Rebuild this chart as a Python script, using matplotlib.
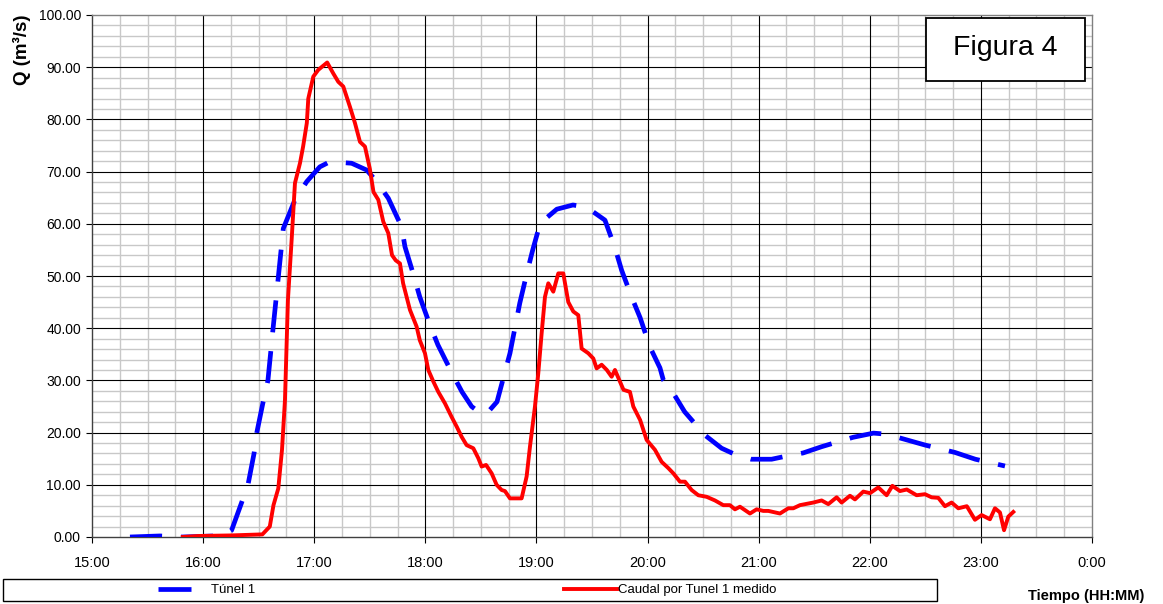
import matplotlib
matplotlib.use('Agg')
import matplotlib.pyplot as plt
from matplotlib.ticker import MultipleLocator, FormatStrFormatter
from matplotlib.lines import Line2D
from matplotlib.patches import Rectangle
import numpy as np

plt.rcParams['font.family'] = ['Liberation Sans', 'DejaVu Sans']

# ---- data: minutes after 15:00 and discharge (m3/s) ----
tunel_min = [20.5, 36.7, 48.6, 58, 66, 72, 75.4, 80.8, 84.4, 87.5, 89, 92.3, 95, 97.7,
             103.3, 109.6, 116, 123, 128.5, 140.2, 148.3, 153.7, 160, 167.2, 169,
             173.3, 177, 182.5, 186.8, 194.4, 199.8, 205, 209.5, 213, 218.7, 225.7,
             231, 235, 238, 242, 251, 259.7, 267, 277, 282.4, 286, 291.6, 296,
             301.3, 306.7, 308.5, 314, 320, 331, 340, 348, 356, 367, 375, 384,
             394, 411, 422, 429, 438, 450, 466, 477, 493]
tunel_q = [0.0, 0.2, 0.0, 0.1, 0.2, 0.5, 1.3, 6.6, 10.3, 16.0, 20.0, 25.7, 30.0, 39.7,
           59.1, 64.6, 68.1, 70.9, 71.9, 71.6, 70.3, 68.1, 64.9, 59.4, 55.6,
           50.6, 46.0, 40.6, 36.8, 31.4, 27.8, 25.0, 23.8, 23.6, 25.9, 35.2,
           44.8, 50.8, 55.0, 60.1, 62.8, 63.6, 63.2, 60.7, 55.4, 51.1, 45.8, 42.0,
           36.4, 32.4, 30.1, 27.5, 24.0, 19.5, 17.0, 15.7, 14.9, 14.9, 15.5, 16.1,
           17.3, 19.1, 19.9, 19.7, 18.8, 17.6, 16.2, 14.9, 13.6]

medido_min = [49, 58, 75, 92, 96, 98, 100.6, 102.6, 104.2, 105.3, 105.8, 107.8, 109.6,
              112.3, 114, 116, 116.8, 119.5, 122.2, 127, 130.3, 133, 135.7, 139.3,
              142, 144.7, 147.4, 150, 152, 154.6, 157.3, 160, 162, 164, 166.3, 168,
              171.7, 175.3, 177, 179.8, 181.6, 184.3, 187, 190.6, 194.2, 197, 199.6,
              202.3, 205.9, 208.6, 210.4, 212.8, 215.8, 218.5, 221.2, 223, 225.7,
              232, 234.7, 236.5, 239.2, 241, 242.8, 244.6, 246.4, 249.1, 251.8,
              254.5, 257.2, 259.9, 262.6, 264.4, 268, 270.7, 272.5, 275.2, 278,
              280.6, 282.4, 287, 290.5, 292.3, 296, 299.5, 304, 307.6, 311.2,
              313.9, 317.5, 320.2, 323.8, 327.4, 331.9, 336.4, 340.9, 344.5, 347.2,
              349.9, 355.3, 358.9, 362.5, 365.2, 371.5, 376, 378.7, 382.3, 389.5,
              394, 397.6, 402.1, 404.8, 409.3, 412, 416.5, 420.1, 424.6, 429.1,
              432.2, 436.3, 440, 445.3, 449.8, 453.4, 457, 460.6, 464.2, 467.8,
              472.4, 476.8, 480.4, 484.9, 487.6, 490.3, 492.5, 494.8, 497.5]
medido_q = [0.0, 0.2, 0.3, 0.5, 2.0, 6.1, 9.3, 16.7, 26.2, 39.0, 45.4, 56.9, 67.8,
            71.6, 74.8, 79.3, 84.0, 88.2, 89.5, 90.9, 88.8, 87.2, 86.3, 82.4,
            79.3, 75.7, 74.8, 70.6, 66.1, 64.6, 60.4, 58.2, 54.0, 53.0, 52.4, 48.6,
            43.5, 40.3, 37.7, 35.2, 32.0, 29.8, 27.8, 25.6, 23.0, 21.1, 19.2,
            17.6, 17.0, 15.1, 13.5, 13.8, 12.2, 10.0, 9.0, 8.8, 7.4,
            7.4, 11.6, 17.3, 25.0, 31.4, 39.0, 46.0, 48.6, 47.0, 50.5,
            50.5, 45.0, 43.2, 42.5, 36.1, 35.2, 34.2, 32.3, 33.0, 32.0,
            30.7, 32.0, 28.2, 27.8, 25.0, 22.4, 18.6, 16.7, 14.4, 13.2,
            12.2, 10.6, 10.6, 9.0, 8.0, 7.7, 7.0, 6.1, 6.1, 5.3,
            5.8, 4.5, 5.3, 5.0, 5.0, 4.5, 5.5, 5.5, 6.1, 6.6,
            7.0, 6.3, 7.6, 6.6, 7.9, 7.2, 8.7, 8.4, 9.5, 8.0,
            9.8, 8.8, 9.1, 8.0, 8.2, 7.6, 7.5, 5.9, 6.6, 5.5,
            5.9, 3.3, 4.2, 3.4, 5.5, 4.7, 1.3, 3.9, 4.8]

x_ticks = [15, 16, 17, 18, 19, 20, 21, 22, 23, 24]
x_tick_labels = ["15:00", "16:00", "17:00", "18:00", "19:00", "20:00",
                 "21:00", "22:00", "23:00", "0:00"]
series_labels = ["Túnel 1", "Caudal por Tunel 1 medido"]

W, H = 1163, 604
fig = plt.figure(figsize=(W / 100, H / 100), dpi=100)
ax = fig.add_axes([92 / W, 67 / H, 1000 / W, 522 / H])

t_blue = [15 + m / 60 for m in tunel_min]
t_red = [15 + m / 60 for m in medido_min]

blue_dash = (0, (6.8, 4.0))
ax.plot(t_blue, tunel_q, color='#0000FF', lw=3.4, linestyle=blue_dash,
        solid_joinstyle='round', zorder=3)
ax.plot(t_red, medido_q, color='#FF0000', lw=2.8, solid_joinstyle='round', zorder=4)

ax.set_xlim(15, 24)
ax.set_ylim(0, 100)
ax.set_xticks(x_ticks)
ax.set_xticklabels(x_tick_labels)
ax.yaxis.set_major_locator(MultipleLocator(10))
ax.yaxis.set_major_formatter(FormatStrFormatter('%.2f'))

# gridlines: minor (gray) below major (black)
for xv in np.arange(15, 24.001, 0.25):
    if abs(xv - round(xv)) > 1e-6:
        ax.axvline(xv, color='#c8c8c8', lw=1.0, zorder=0.5)
for yv in np.arange(0, 100.001, 2):
    if int(round(yv)) % 10 != 0:
        ax.axhline(yv, color='#c8c8c8', lw=1.0, zorder=0.5)
for xv in x_ticks[1:-1]:
    ax.axvline(xv, color='black', lw=0.8, zorder=1)
for yv in range(10, 100, 10):
    ax.axhline(yv, color='black', lw=0.8, zorder=1)

ax.tick_params(axis='y', which='major', length=4, width=0.8, pad=4, labelsize=10, colors='black')
ax.tick_params(axis='x', which='major', length=4, width=0.8, pad=10, labelsize=10.5, colors='black')

for side in ['top', 'right']:
    ax.spines[side].set_color('#808080')
    ax.spines[side].set_linewidth(1.0)
for side in ['left', 'bottom']:
    ax.spines[side].set_color('#404040')
    ax.spines[side].set_linewidth(1.0)

# y label
fig.text(22 / W, 1 - 50 / H, "Q (m³/s)", rotation=90, ha='center', va='center',
         fontsize=13.5, fontweight='bold')
# x label
fig.text(1028 / W, 1 - 596 / H, "Tiempo (HH:MM)", ha='left', va='center',
         fontsize=10.5, fontweight='bold')

# Figura 4 box
fig.patches.append(Rectangle((926 / W, 1 - 81 / H), 159 / W, 63 / H,
                             transform=fig.transFigure, facecolor='white',
                             edgecolor='black', lw=1.3, zorder=10))
fig.text(1005 / W, 1 - 48 / H, "Figura 4", ha='center', va='center', fontsize=20.5, zorder=11)

# legend box
fig.patches.append(Rectangle((3 / W, 1 - 601 / H), 934 / W, 22 / H,
                             transform=fig.transFigure, facecolor='white',
                             edgecolor='black', lw=1.0))
ly = 1 - 588.5 / H
fig.lines.append(Line2D([158 / W, 191 / W], [ly, ly], transform=fig.transFigure,
                        color='#0000FF', lw=3.4, solid_capstyle='butt'))
fig.text(211 / W, ly - 1.5 / H, series_labels[0], ha='left', va='center', fontsize=9.5)
fig.lines.append(Line2D([564 / W, 617 / W], [ly, ly], transform=fig.transFigure,
                        color='#FF0000', lw=2.8))
fig.text(618 / W, ly - 1.5 / H, series_labels[1], ha='left', va='center', fontsize=9.5)

fig.savefig('out.png', dpi=100, facecolor='white')
